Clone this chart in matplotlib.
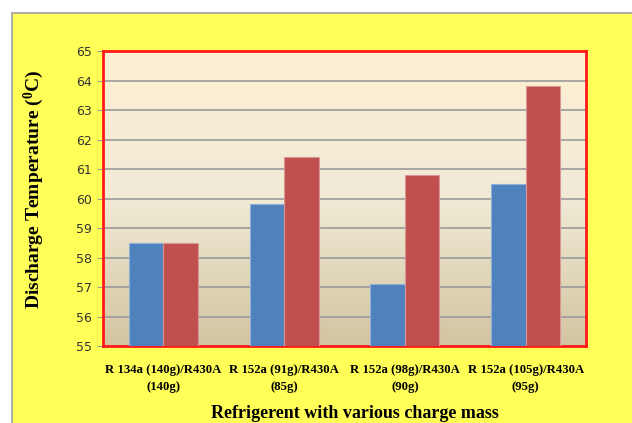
import numpy as np
import matplotlib.pyplot as plt
from matplotlib.patches import Rectangle
from matplotlib.colors import LinearSegmentedColormap

categories = ["R 134a (140g)/R430A\n(140g)",
              "R 152a (91g)/R430A\n(85g)",
              "R 152a (98g)/R430A\n(90g)",
              "R 152a (105g)/R430A\n(95g)"]
series_a = [58.5, 59.8, 57.1, 60.5]
series_b = [58.5, 61.4, 60.8, 63.8]
yticks = np.arange(55, 66, 1)

plt.rcParams['mathtext.fontset'] = 'custom'
plt.rcParams['mathtext.rm'] = 'Liberation Serif:bold'

fig = plt.figure(figsize=(6.32, 4.23), dpi=100)
fig.patch.set_facecolor('white')

# yellow chart area frame
fig.patches.append(Rectangle((12 / 632, -0.1), 1.0, 1 - 13 / 423 + 0.1,
                             transform=fig.transFigure, facecolor='#ffff57',
                             edgecolor='#a0a0a0', linewidth=1.2, zorder=0))

ax = fig.add_axes([103 / 632, 1 - 346 / 423, 483 / 632, 295 / 423])
ax.set_zorder(2)
ax.set_xlim(-0.5, len(categories) - 0.5)
ax.set_ylim(55, 65)

# plot area gradient (light cream top -> tan bottom)
cmap = LinearSegmentedColormap.from_list('bg', ['#d3c4a1', '#f1ebd6', '#fdefd3'])
grad = np.linspace(0, 1, 256).reshape(-1, 1)
ax.imshow(grad, cmap=cmap, aspect='auto', origin='lower',
          extent=[-0.5, len(categories) - 0.5, 55, 65], zorder=0)

ax.set_yticks(yticks)
ax.yaxis.grid(True, color='#9a9a9a', linewidth=1.2, zorder=1)
ax.set_axisbelow(True)

x = np.arange(len(categories))
w = 1 / 3.5
ax.bar(x - w / 2, series_a, width=w, bottom=0, color='#4f81bd',
       edgecolor='#8fb0d8', linewidth=0.8, zorder=3)
ax.bar(x + w / 2, series_b, width=w, bottom=0, color='#c0504d',
       edgecolor='#d99694', linewidth=0.8, zorder=3)
ax.set_xlim(-0.5, len(categories) - 0.5)
ax.set_ylim(55, 65)

for s in ax.spines.values():
    s.set_color('#ff1a1a')
    s.set_linewidth(2)

ax.set_xticks(x)
ax.set_xticklabels(categories, fontfamily='Liberation Serif',
                   fontweight='bold', fontsize=9.2, linespacing=1.5)
ax.tick_params(axis='x', length=0, pad=13)
ax.tick_params(axis='y', length=4, color='#9a9a9a', labelsize=9,
               labelcolor='#333333', pad=4)

ax.set_ylabel(r'Discharge Temperature ($\mathregular{^0}$C)',
              fontfamily='Liberation Serif', fontweight='bold',
              fontsize=14)
ax.yaxis.set_label_coords(-0.117, 0.53)

fig.text(355 / 632, 1 - 405 / 423, 'Refrigerent with various charge mass',
         ha='center', va='top', fontfamily='Liberation Serif',
         fontweight='bold', fontsize=13)

fig.savefig('out.png', dpi=100)
